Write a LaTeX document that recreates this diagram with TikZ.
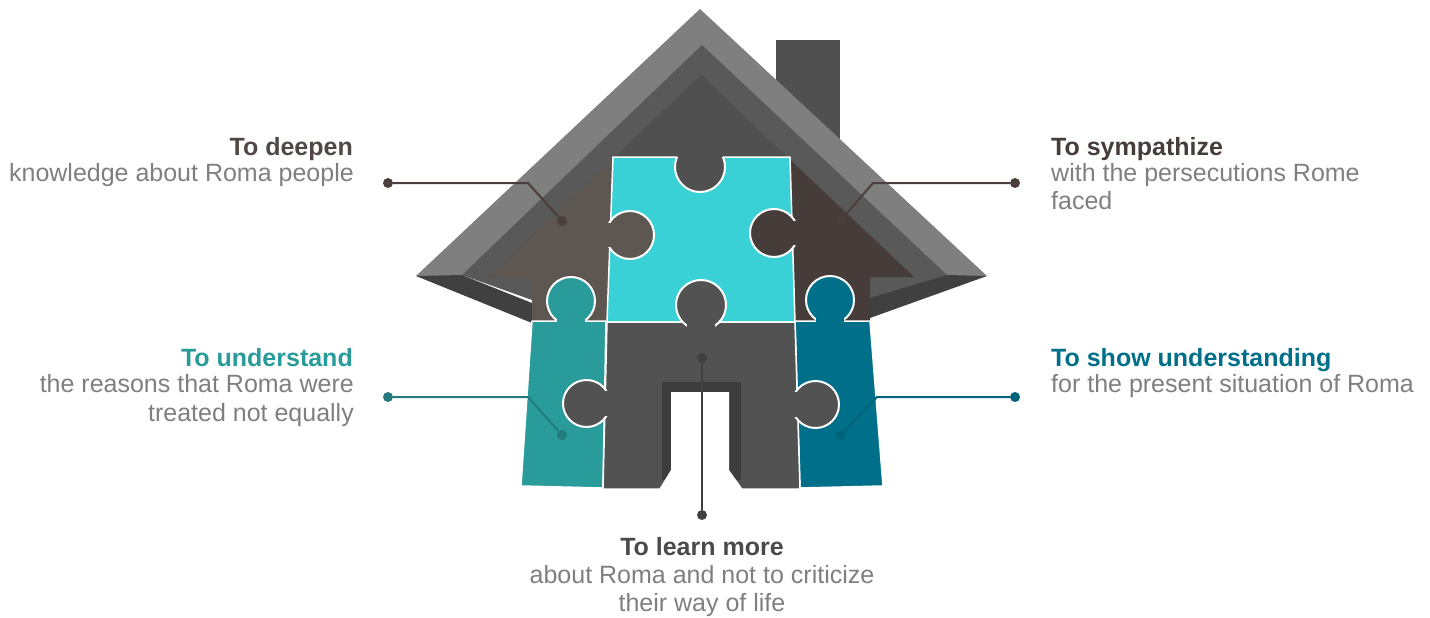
\documentclass[tikz,border=0pt]{standalone}
\usepackage{fontspec}
\setmainfont{Liberation Sans}
\usepackage{xcolor}
\usetikzlibrary{positioning}

\definecolor{roofLight}{HTML}{7F7F7F}
\definecolor{roofMid}{HTML}{595959}
\definecolor{roofIn}{HTML}{505050}
\definecolor{eave}{HTML}{404040}
\definecolor{brownL}{HTML}{5E5651}
\definecolor{brownR}{HTML}{463D3A}
\definecolor{puzzleCyan}{HTML}{3AD1D6}
\definecolor{tealL}{HTML}{2A9B9B}
\definecolor{tealR}{HTML}{00708A}
\definecolor{doorGray}{HTML}{525252}
\definecolor{doorFrame}{HTML}{3D3D3D}
\definecolor{lineBrown}{HTML}{4A3F3C}
\definecolor{lineTeal}{HTML}{237B7B}
\definecolor{linePetrol}{HTML}{00637A}
\definecolor{lineGray}{HTML}{404040}
\definecolor{txtGray}{HTML}{7F7F7F}
\definecolor{headBrown}{HTML}{4F4845}
\definecolor{headGray}{HTML}{4A4A4A}

\tikzstyle{callout} = [line width=2pt]
\tikzstyle{dot} = [circle, inner sep=0pt, minimum size=10pt]

\begin{document}
\begin{tikzpicture}[x=1pt, y=-1pt,
		piece/.style = {draw=white, line width=1.5pt, line join=round},
		knob/.style = {draw=white, line width=2pt},
		head/.style = {font=\fontsize{25}{28}\selectfont\bfseries, inner sep=0pt},
		sub/.style = {font=\fontsize{25}{28}\selectfont, text=txtGray, inner sep=0pt}]

		\useasboundingbox (0,0) rectangle (1430,618);

		% Chimney
		\fill[roofIn] (776,40) rectangle (840,140);

		% Roof
		\fill[roofLight] (700,9) -- (987,276) -- (416,276) -- cycle;
		\fill[roofMid] (702,45) -- (947,275) -- (870,300) -- (532,300) -- (462,275) -- cycle;
		\fill[eave] (416,276) -- (462,275) -- (532,303) -- (532,323) -- cycle;
		\fill[eave] (987,276) -- (947,275) -- (870,298) -- (870,318) -- cycle;
		\fill[roofIn] (701,75) -- (914,277) -- (489,277) -- cycle;

		% Brown pieces
		\fill[brownL] (615,157) -- (489,277) -- (532,277) -- (532,322) -- (608,322) -- cycle;
		\fill[brownR] (787,157) -- (914,277) -- (870,277) -- (870,322) -- (795,322) -- cycle;

		% Cyan piece
		\filldraw[piece, fill=puzzleCyan] (613,157) -- (790,157) -- (795,322) -- (607,322) -- cycle;

		% Teal pieces
		\filldraw[piece, fill=tealL] (532,321) -- (606,321) -- (603,488) -- (521,486) -- cycle;
		\filldraw[piece, fill=tealR] (795,321) -- (870,321) -- (883,486) -- (800,488) -- cycle;

		% Door piece
		\filldraw[piece, fill=doorGray] (607,322) -- (795,322) -- (800,489) -- (603,489) -- cycle;
		\fill[doorFrame] (662,382) rectangle (741,480);
		\fill[white] (671,392) -- (729,392) -- (729,470) -- (744,491) -- (658,491) -- (671,470) -- cycle;

		% Knobs
		\filldraw[knob, fill=brownL] (630,235) circle (24pt);
		\fill[brownL] (602,223) rectangle (616,247);
		\filldraw[knob, fill=brownR] (774,233) circle (24pt);
		\fill[brownR] (788,221) rectangle (800,245);
		\filldraw[knob, fill=doorGray] (701,305) circle (25pt);
		\fill[doorGray] (687,317) rectangle (715,332);
		\filldraw[knob, fill=tealL] (571,301) circle (24pt);
		\fill[tealL] (557,314) rectangle (585,326);
		\filldraw[knob, fill=tealR] (830,300) circle (24pt);
		\fill[tealR] (816,313) rectangle (844,326);
		\filldraw[knob, fill=doorGray] (586.5,403.5) circle (23.5pt);
		\fill[doorGray] (598,391) rectangle (612,416);
		\filldraw[knob, fill=doorGray] (815.5,404.5) circle (23.5pt);
		\fill[doorGray] (790,392) rectangle (804,417);

		% Notch at the top
		\fill[roofIn] (700,167) circle (25pt);
		\begin{scope}
			\clip (613,157) -- (790,157) -- (795,322) -- (607,322) -- cycle;
			\draw[white, line width=2pt] (700,167) circle (25pt);
		\end{scope}

		% Callout A
		\node[dot, fill=lineBrown] (dA) at (388,183) {};
		\coordinate (kA) at (528,183);
		\node[dot, fill=lineBrown] (eA) at (562,221) {};
		\draw[callout, lineBrown] (dA) -- (kA) -- (eA);

		% Callout B
		\node[dot, fill=lineBrown] (dB) at (1015,183) {};
		\coordinate (kB) at (873,183);
		\node[dot, fill=lineBrown] (eB) at (841,220) {};
		\draw[callout, lineBrown] (dB) -- (kB) -- (eB);

		% Callout C
		\node[dot, fill=lineTeal] (dC) at (388,397) {};
		\coordinate (kC) at (528,397);
		\node[dot, fill=lineTeal] (eC) at (562,435) {};
		\draw[callout, lineTeal] (dC) -- (kC) -- (eC);

		% Callout D
		\node[dot, fill=linePetrol] (dD) at (1015,397) {};
		\coordinate (kD) at (877,397);
		\node[dot, fill=linePetrol] (eD) at (841,435) {};
		\draw[callout, linePetrol] (dD) -- (kD) -- (eD);

		% Callout E
		\node[dot, fill=lineGray] (dE) at (702,358) {};
		\node[dot, fill=lineGray] (eE) at (702,515) {};
		\draw[callout, lineGray] (dE) -- (eE);

		% Texts A
		\node[head, text=headBrown, anchor=base east] (hA) at (353,155.5) {To deepen};
		\node[sub, anchor=base east] (sA) at (354,181) {knowledge about Roma people};

		% Texts B
		\node[head, text=brownR, anchor=base west] (hB) at (1051,155) {To sympathize};
		\node[sub, anchor=base west] (sB1) at (1051,181) {with the persecutions Rome};
		\node[sub, anchor=base west] (sB2) at (1051,209.5) {faced};

		% Texts C
		\node[head, text=tealL, anchor=base east] (hC) at (353,366) {To understand};
		\node[sub, anchor=base east] (sC1) at (354,392) {the reasons that Roma were};
		\node[sub, anchor=base east] (sC2) at (354,421) {treated not equally};

		% Texts D
		\node[head, text=tealR, anchor=base west] (hD) at (1051,366) {To show understanding};
		\node[sub, anchor=base west] (sD) at (1051,392) {for the present situation of Roma};

		% Texts E
		\node[head, text=headGray, anchor=base] (hE) at (702,555.7) {To learn more};
		\node[sub, anchor=base] (sE1) at (702,583.3) {about Roma and not to criticize};
		\node[sub, anchor=base] (sE2) at (702,611.7) {their way of life};
\end{tikzpicture}
\end{document}
